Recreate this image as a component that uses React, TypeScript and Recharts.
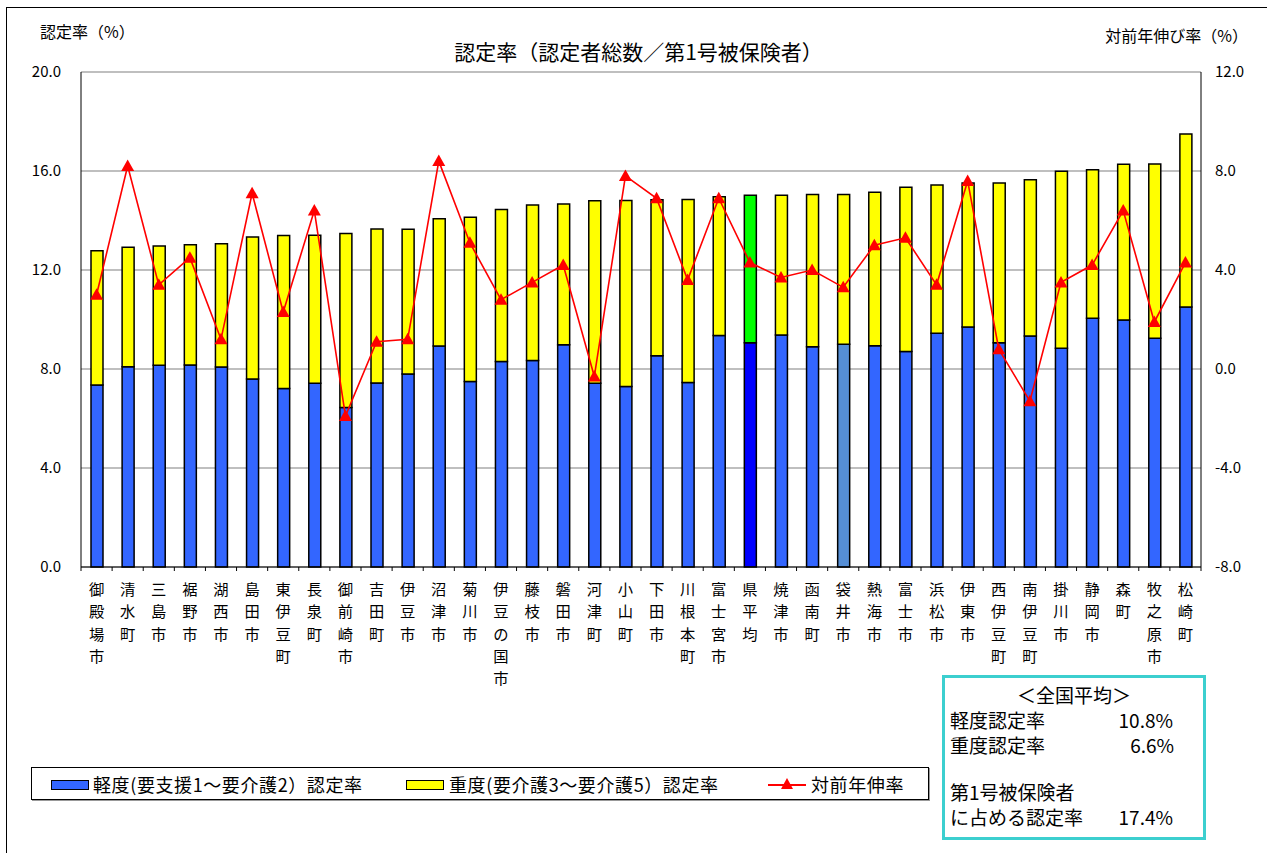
import React from 'react';
import {
  Bar,
  CartesianGrid,
  Cell,
  ComposedChart,
  Line,
  XAxis,
  YAxis,
} from 'recharts';

const categories = [
  '御殿場市', '清水町', '三島市', '裾野市', '湖西市', '島田市', '東伊豆町', '長泉町', '御前崎市',
  '吉田町', '伊豆市', '沼津市', '菊川市', '伊豆の国市', '藤枝市', '磐田市', '河津町', '小山町',
  '下田市', '川根本町', '富士宮市', '県平均', '焼津市', '函南町', '袋井市', '熱海市', '富士市',
  '浜松市', '伊東市', '西伊豆町', '南伊豆町', '掛川市', '静岡市', '森町', '牧之原市', '松崎町',
];

// 軽度(要支援1～要介護2)認定率
const lightRate = [
  7.35, 8.09, 8.15, 8.16, 8.08, 7.6, 7.21, 7.42, 6.44,
  7.43, 7.8, 8.93, 7.49, 8.3, 8.34, 8.98, 7.42, 7.29,
  8.54, 7.45, 9.35, 9.06, 9.37, 8.9, 9.0, 8.94, 8.71,
  9.44, 9.7, 9.06, 9.33, 8.84, 10.05, 9.98, 9.24, 10.51,
];

// 重度(要介護3～要介護5)認定率
const heavyRate = [
  5.43, 4.83, 4.82, 4.86, 4.98, 5.73, 6.18, 5.98, 7.03,
  6.23, 5.85, 5.14, 6.64, 6.14, 6.29, 5.69, 7.38, 7.52,
  6.3, 7.4, 5.61, 5.96, 5.65, 6.15, 6.05, 6.2, 6.63,
  5.99, 5.82, 6.46, 6.32, 7.15, 6.0, 6.29, 7.04, 6.98,
];

// 対前年伸率
const growth = [
  3.0, 8.2, 3.4, 4.5, 1.2, 7.1, 2.3, 6.4, -1.9,
  1.1, 1.2, 8.4, 5.1, 2.8, 3.5, 4.2, -0.3, 7.8,
  6.9, 3.6, 6.9, 4.3, 3.7, 4.0, 3.3, 5.0, 5.3,
  3.4, 7.6, 0.8, -1.3, 3.5, 4.2, 6.4, 1.9, 4.3,
];

const leftTicks = [0, 4, 8, 12, 16, 20];
const rightTicks = [-8, -4, 0, 4, 8, 12];

const data = categories.map((name, i) => ({
  name,
  light: lightRate[i],
  heavy: heavyRate[i],
  growth: growth[i],
}));

const FONT = '"Noto Sans CJK JP", "Noto Sans", sans-serif';
const BLUE = '#3366FF';
const YELLOW = '#FFFF00';

const lightColor = (name: string) =>
  name === '県平均' ? '#0000FF' : name === '袋井市' ? '#558ED5' : BLUE;
const heavyColor = (name: string) => (name === '県平均' ? '#00FF00' : YELLOW);

const BAND = 1120 / categories.length;

// vertical label: one character per line
const CategoryTick = (props: any) => {
  const { x, y, payload, index } = props;
  const chars = String(payload.value).split('');
  return (
    <g>
      <line x1={x - BAND / 2} x2={x - BAND / 2} y1={y} y2={y + 4} stroke="#000" />
      {index === categories.length - 1 && (
        <line x1={x + BAND / 2} x2={x + BAND / 2} y1={y} y2={y + 4} stroke="#000" />
      )}
      {chars.map((c, i) => (
        <text
          key={i}
          x={x}
          y={y + 21 + i * 22.3}
          textAnchor="middle"
          dominantBaseline="central"
          fontSize={15.3}
          fill="#000"
          fontFamily={FONT}
        >
          {c}
        </text>
      ))}
    </g>
  );
};

const Triangle = (props: any) => {
  const { cx, cy, index } = props;
  return (
    <polygon
      key={`tri-${index}`}
      points={`${cx},${cy - 6.5} ${cx - 6.5},${cy + 5} ${cx + 6.5},${cy + 5}`}
      fill="#FF0000"
    />
  );
};

export default function App() {
  return (
    <div
      style={{
        position: 'absolute',
        left: 0,
        top: 0,
        width: 1267,
        height: 853,
        background: '#fff',
        fontFamily: FONT,
        overflow: 'hidden',
      }}
    >
      <div
        style={{
          position: 'absolute',
          left: 6,
          top: 7,
          width: 1300,
          height: 900,
          borderTop: '1.5px solid #000',
          borderLeft: '1.5px solid #000',
        }}
      />
      <div style={{ position: 'absolute', left: 0, top: 0 }}>
        <ComposedChart
          width={1267}
          height={853}
          data={data}
          margin={{ top: 72, right: 6, bottom: 156, left: 6 }}
          barCategoryGap={0}
        >
          <CartesianGrid yAxisId="left" vertical={false} stroke="#808080" strokeWidth={1.2} />
          <XAxis
            dataKey="name"
            interval={0}
            height={130}
            tickLine={false}
            tickSize={0}
            tickMargin={0}
            axisLine={{ stroke: '#000' }}
            tick={<CategoryTick />}
          />
          <YAxis
            yAxisId="left"
            width={75}
            domain={[0, 20]}
            ticks={leftTicks}
            interval={0}
            tickFormatter={(v: number) => v.toFixed(1)}
            tickLine={false}
            tickSize={0}
            tickMargin={20}
            axisLine={{ stroke: '#000' }}
            tick={{ fill: '#000', fontSize: 15, fontFamily: FONT }}
          />
          <YAxis
            yAxisId="right"
            orientation="right"
            width={60}
            domain={[-8, 12]}
            ticks={rightTicks}
            interval={0}
            tickFormatter={(v: number) => v.toFixed(1)}
            tickLine={false}
            tickSize={0}
            tickMargin={14}
            axisLine={{ stroke: '#000' }}
            tick={{ fill: '#000', fontSize: 15, fontFamily: FONT }}
          />
          <Bar
            yAxisId="left"
            dataKey="light"
            stackId="rate"
            barSize={12}
            stroke="#000"
            strokeWidth={1.5}
            isAnimationActive={false}
          >
            {data.map((d) => (
              <Cell key={`l-${d.name}`} fill={lightColor(d.name)} />
            ))}
          </Bar>
          <Bar
            yAxisId="left"
            dataKey="heavy"
            stackId="rate"
            barSize={12}
            stroke="#000"
            strokeWidth={1.5}
            isAnimationActive={false}
          >
            {data.map((d) => (
              <Cell key={`h-${d.name}`} fill={heavyColor(d.name)} />
            ))}
          </Bar>
          <Line
            yAxisId="right"
            dataKey="growth"
            stroke="#FF0000"
            strokeWidth={1.6}
            dot={<Triangle />}
            activeDot={false}
            isAnimationActive={false}
          />
        </ComposedChart>
      </div>

      {/* titles */}
      <div
        style={{
          position: 'absolute',
          left: 0,
          width: 1267,
          top: 37,
          textAlign: 'center',
          fontSize: 21,
          lineHeight: '28px',
          paddingLeft: 10,
          boxSizing: 'border-box',
        }}
      >
        認定率（認定者総数／第1号被保険者）
      </div>
      <div style={{ position: 'absolute', left: 40, top: 20, fontSize: 16, lineHeight: '22px' }}>
        認定率（%）
      </div>
      <div
        style={{
          position: 'absolute',
          right: 1267 - 1248,
          top: 24,
          fontSize: 16,
          lineHeight: '22px',
          whiteSpace: 'nowrap',
        }}
      >
        対前年伸び率（%）
      </div>

      {/* legend */}
      <div
        style={{
          position: 'absolute',
          left: 31,
          top: 767,
          width: 898,
          height: 33,
          border: '1px solid #000',
          boxShadow: '1px 1px 0 #999',
          boxSizing: 'border-box',
          fontSize: 18,
          letterSpacing: 0.6,
        }}
      >
        <div
          style={{
            position: 'absolute',
            left: 19,
            top: 12,
            width: 38,
            height: 10,
            background: BLUE,
            border: '1.5px solid #000',
            boxSizing: 'border-box',
          }}
        />
        <div style={{ position: 'absolute', left: 61, top: 3, lineHeight: '26px', whiteSpace: 'nowrap' }}>
          軽度(要支援1～要介護2）認定率
        </div>
        <div
          style={{
            position: 'absolute',
            left: 374,
            top: 12,
            width: 38,
            height: 10,
            background: YELLOW,
            border: '1.5px solid #000',
            boxSizing: 'border-box',
          }}
        />
        <div style={{ position: 'absolute', left: 417, top: 3, lineHeight: '26px', whiteSpace: 'nowrap' }}>
          重度(要介護3～要介護5）認定率
        </div>
        <svg style={{ position: 'absolute', left: 735, top: 4 }} width={40} height={24}>
          <line x1={1} x2={39} y1={13} y2={13} stroke="#FF0000" strokeWidth={2} />
          <polygon points="20,6 14,17 26,17" fill="#FF0000" />
        </svg>
        <div style={{ position: 'absolute', left: 779, top: 3, lineHeight: '26px', whiteSpace: 'nowrap' }}>
          対前年伸率
        </div>
      </div>

      {/* national average box */}
      <div
        style={{
          position: 'absolute',
          left: 942,
          top: 675,
          width: 264,
          height: 165,
          border: '3px solid #3CCFCF',
          boxSizing: 'border-box',
          fontSize: 19,
        }}
      >
        <div style={{ position: 'absolute', left: 0, width: 258, top: 5, textAlign: 'center', lineHeight: '24px' }}>
          ＜全国平均＞
        </div>
        <div style={{ position: 'absolute', left: 5, top: 30, lineHeight: '24px' }}>軽度認定率</div>
        <div style={{ position: 'absolute', right: 30, top: 30, lineHeight: '24px' }}>10.8%</div>
        <div style={{ position: 'absolute', left: 5, top: 55, lineHeight: '24px' }}>重度認定率</div>
        <div style={{ position: 'absolute', right: 29, top: 55, lineHeight: '24px' }}>6.6%</div>
        <div style={{ position: 'absolute', left: 5, top: 102, lineHeight: '24px' }}>第1号被保険者</div>
        <div style={{ position: 'absolute', left: 5, top: 127, lineHeight: '24px' }}>に占める認定率</div>
        <div style={{ position: 'absolute', right: 30, top: 127, lineHeight: '24px' }}>17.4%</div>
      </div>
    </div>
  );
}
